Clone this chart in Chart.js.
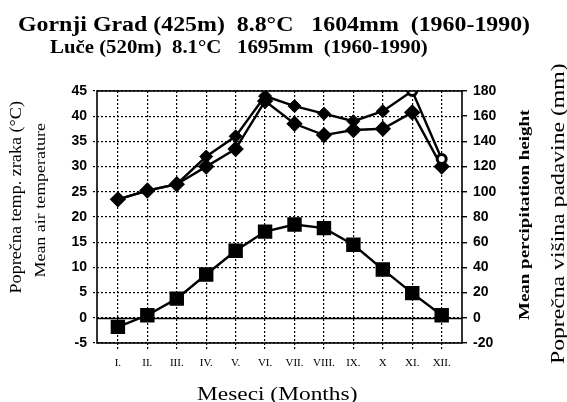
<!DOCTYPE html>
<html>
<head>
<meta charset="utf-8">
<script src="https://cdn.jsdelivr.net/npm/chart.js@4.4.1/dist/chart.umd.min.js"></script>
<style>
  html, body { margin: 0; padding: 0; background: #fff; }
  #wrap { position: relative; width: 567px; height: 402px; overflow: hidden; }
  canvas { position: absolute; left: 0; top: 0; }
  .lbl { position: absolute; left: 0; top: 0; white-space: pre; line-height: 1; color: #000; transform-origin: 0 0; }
</style>
</head>
<body>
<div id="wrap"><canvas id="c" width="567" height="402"></canvas></div>
<script>
// ---- data ----
const months = ['I.', 'II.', 'III.', 'IV.', 'V.', 'VI.', 'VII.', 'VIII.', 'IX.', 'X', 'XI.', 'XII.'];
const temperature = [-1.8, 0.5, 3.8, 8.6, 13.3, 17.1, 18.5, 17.8, 14.5, 9.6, 4.9, 0.5];      // °C
const precipLuce = [94, 101, 106, 128, 144, 176, 168, 162, 156, 164, 180, 126];              // mm
const precipGornjiGrad = [94, 101, 106, 120, 134, 172, 154, 145, 149, 150, 163, 120];        // mm
const tempTicks = [-5, 0, 5, 10, 15, 20, 25, 30, 35, 40, 45];
const precipTicks = [-20, 0, 20, 40, 60, 80, 100, 120, 140, 160, 180];

const titleLine1 = 'Gornji Grad (425m)  8.8°C   1604mm  (1960-1990)';
const titleLine2 = 'Luče (520m)  8.1°C   1695mm  (1960-1990)';

const toXY = arr => arr.map((v, i) => ({ x: i + 1, y: v }));

const dotted = [2, 2];
const frame = {
  id: 'frame',
  afterDatasetsDraw(chart) {
    const { ctx, chartArea: a, scales } = chart;
    ctx.save();
    ctx.strokeStyle = '#000';
    ctx.lineWidth = 1.6;
    ctx.setLineDash([]);
    ctx.strokeRect(a.left, a.top, a.right - a.left, a.bottom - a.top);
    const y0 = Math.round(scales.y.getPixelForValue(0)) + 0.5;
    ctx.beginPath();
    ctx.moveTo(a.left, y0);
    ctx.lineTo(a.right, y0);
    ctx.stroke();
    ctx.restore();
  }
};

const W = 567, H = 402;
const areaLeft = 97, areaRight = 462, areaTop = 91, areaBottom = 343;

new Chart(document.getElementById('c'), {
  type: 'line',
  data: {
    datasets: [
      {
        label: 'Luče precipitation',
        data: toXY(precipLuce),
        yAxisID: 'y2',
        borderColor: '#000',
        borderWidth: 2.4,
        pointStyle: ctx => (ctx.dataIndex >= 10 ? 'circle' : 'rectRot'),
        pointRadius: ctx => (ctx.dataIndex >= 10 ? 4.5 : 6.5),
        pointBorderWidth: ctx => (ctx.dataIndex >= 10 ? 3 : 1),
        pointBackgroundColor: ctx => (ctx.dataIndex >= 10 ? '#fff' : '#000'),
        pointBorderColor: '#000',
        tension: 0
      },
      {
        label: 'Gornji Grad precipitation',
        data: toXY(precipGornjiGrad),
        yAxisID: 'y2',
        borderColor: '#000',
        borderWidth: 2.4,
        pointStyle: 'rectRot',
        pointRadius: 6.5,
        pointBackgroundColor: '#000',
        pointBorderColor: '#000',
        tension: 0
      },
      {
        label: 'Temperature',
        data: toXY(temperature),
        yAxisID: 'y',
        borderColor: '#000',
        borderWidth: 2.4,
        pointStyle: 'rect',
        pointRadius: 8.5,
        pointBackgroundColor: '#000',
        pointBorderColor: '#000',
        tension: 0
      }
    ]
  },
  options: {
    responsive: false,
    animation: false,
    devicePixelRatio: 1,
    layout: { padding: { top: areaTop, left: 0, right: 0, bottom: 0 } },
    plugins: { legend: { display: false }, title: { display: false }, tooltip: { enabled: false } },
    scales: {
      x: {
        type: 'linear',
        min: 0.29,
        max: 12.69,
        afterBuildTicks: s => { s.ticks = months.map((m, i) => ({ value: i + 1 })); },
        afterFit: s => { s.height = H - areaBottom; },
        ticks: {
          callback: v => months[v - 1],
          font: { family: 'Liberation Serif', size: 11 },
          color: '#000',
          padding: 8,
          maxRotation: 0,
          autoSkip: false
        },
        grid: { color: '#000', lineWidth: 1.2, tickLength: 6, tickColor: '#000', tickBorderDash: dotted },
        border: { display: false, dash: dotted }
      },
      y: {
        position: 'left',
        min: -5,
        max: 45,
        afterBuildTicks: s => { s.ticks = tempTicks.map(v => ({ value: v })); },
        afterFit: s => { s.width = areaLeft; },
        ticks: {
          font: { family: 'Liberation Sans', size: 14, weight: 'bold' },
          color: '#000',
          padding: 6
        },
        grid: { color: '#000', lineWidth: 1.2, tickLength: 4, tickColor: '#000', tickBorderDash: dotted },
        border: { display: false, dash: dotted }
      },
      y2: {
        position: 'right',
        min: -20,
        max: 180,
        afterBuildTicks: s => {
          const t = [];
          for (let v = -20; v <= 180; v += 10) t.push({ value: v });
          s.ticks = t;
        },
        afterFit: s => { s.width = W - areaRight; },
        ticks: {
          callback: v => (precipTicks.includes(v) ? String(v) : ''),
          font: { family: 'Liberation Sans', size: 14, weight: 'bold' },
          color: '#000',
          padding: 6
        },
        grid: { drawOnChartArea: false, color: '#000', lineWidth: 1.4, tickLength: 5, tickColor: '#000' },
        border: { display: false }
      }
    }
  },
  plugins: [frame]
});

// ---- text labels (titles, axis titles) ----
const wrap = document.getElementById('wrap');
function label(text, cx, cy, len, font, rot) {
  const d = document.createElement('div');
  d.className = 'lbl';
  d.textContent = text;
  d.style.font = font;
  d.style.lineHeight = '1';
  wrap.appendChild(d);
  const w = d.offsetWidth, h = d.offsetHeight;
  const s = len / w;
  d.style.transform = `translate(${cx}px, ${cy}px) rotate(${rot}deg) scaleX(${s}) translate(${-w / 2}px, ${-h / 2}px)`;
}
label(titleLine1, 18 + 512 / 2, 24, 512, 'bold 20px "Liberation Serif"', 0);
label(titleLine2, 50 + 378 / 2, 46, 378, 'bold 19px "Liberation Serif"', 0);
label('Poprečna temp. zraka (°C)', 15, 197, 193, '17px "Liberation Serif"', -90);
label('Mean air temperature', 41, 200, 155, '14px "Liberation Serif"', -90);
label('Mean percipitation height', 525, 215, 210, 'bold 14px "Liberation Serif"', -90);
label('Poprečna višina padavine (mm)', 558, 214, 300, '18px "Liberation Serif"', -90);
label('Meseci (Months)', 277, 393, 160, '19px "Liberation Serif"', 0);
</script>
</body>
</html>
